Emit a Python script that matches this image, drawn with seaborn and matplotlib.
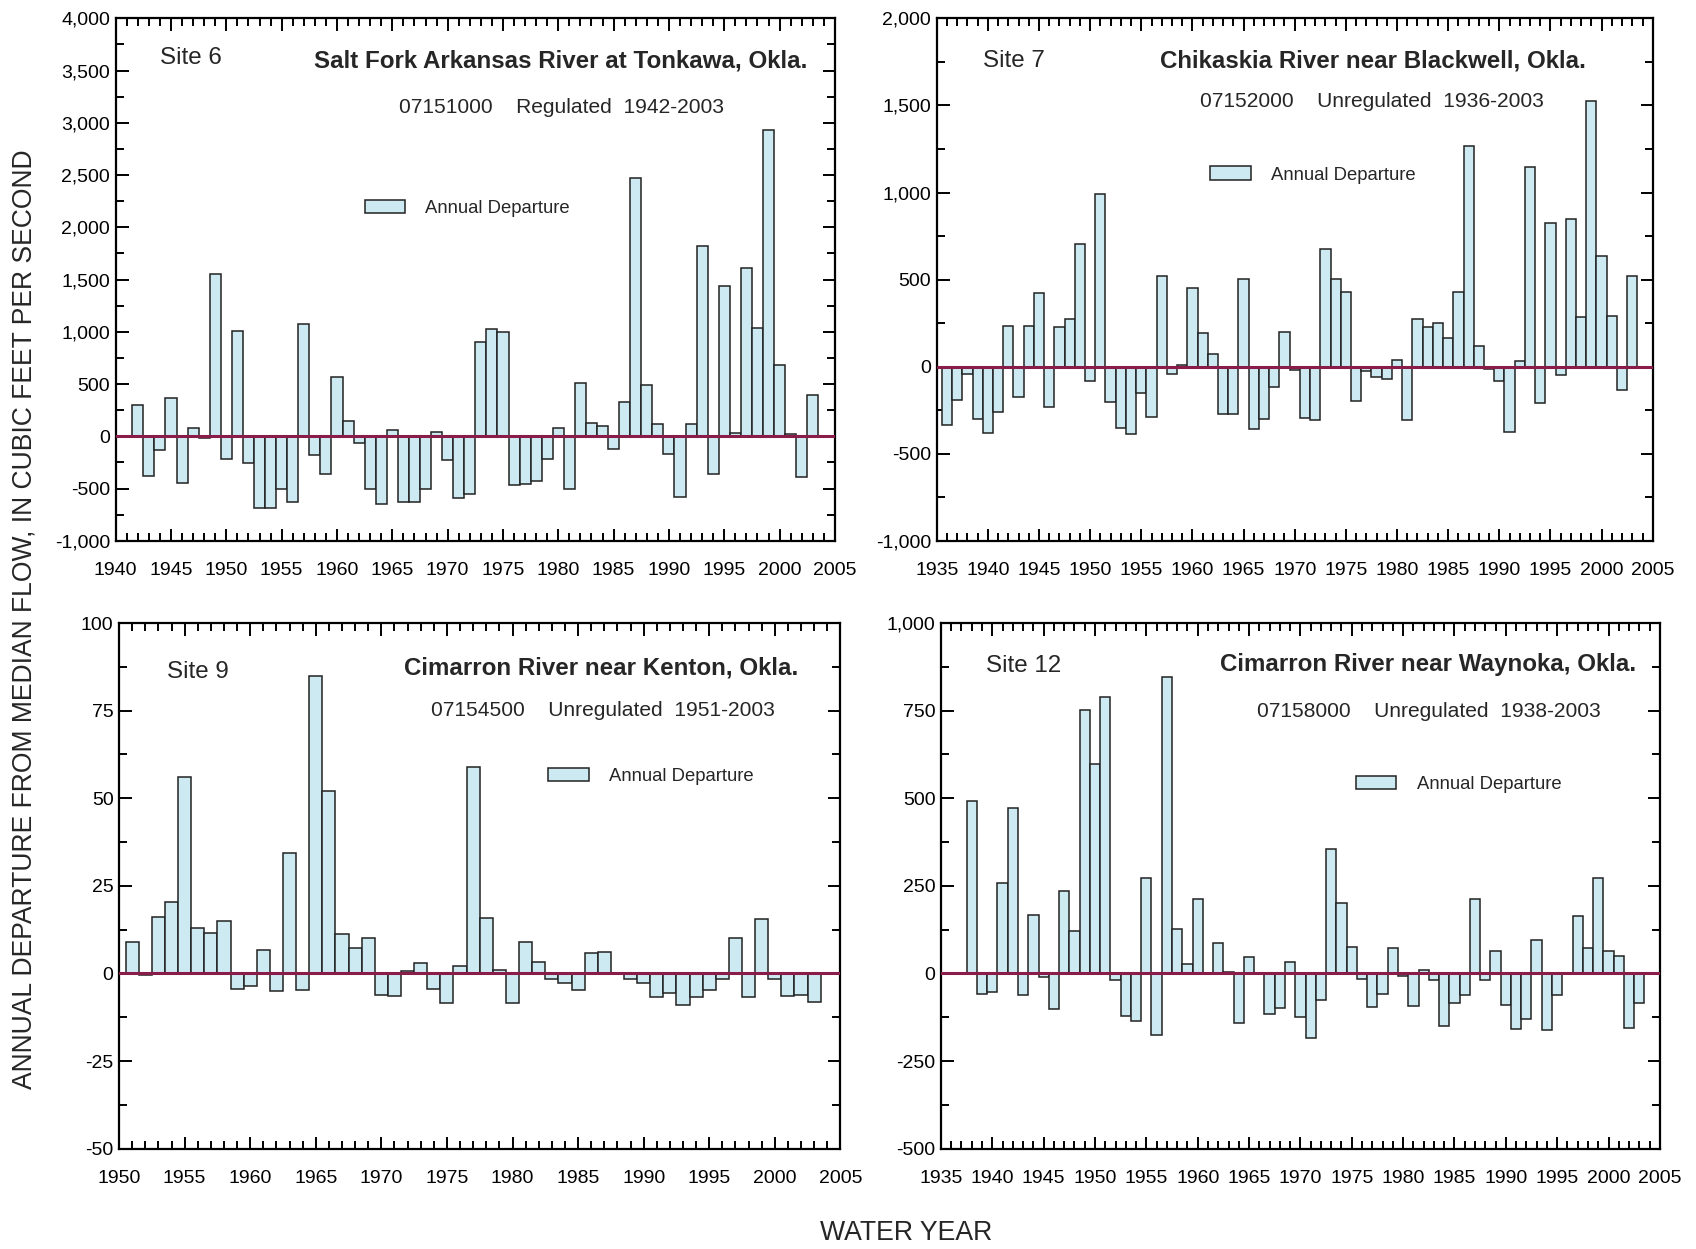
import pandas as pd
import seaborn as sns
import matplotlib.pyplot as plt
from matplotlib.ticker import MultipleLocator, FuncFormatter

# Site 6 - Salt Fork Arkansas River at Tonkawa
years_6 = list(range(1942, 2004))
depart_6 = [300, -380, -135, 365, -450, 81, -20, 1551, -220, 1010,
            -257, -682, -686, -500, -625, 1074, -179, -358, 564, 145,
            -68, -507, -649, 64, -632, -625, -507, 40, -226, -588,
            -551, 905, 1030, 1003, -466, -456, -426, -213, 81, -500,
            514, 128, 98, -122, 331, 2476, 493, 122, -166, -581,
            118, 1821, -365, 1443, 34, 1611, 1037, 2932, 682, 24,
            -385, 395]

# Site 7 - Chikaskia River near Blackwell
years_7 = list(range(1936, 2004))
depart_7 = [-334, -192, -40, -300, -381, -259, 231, -176, 235, 423,
            -229, 227, 271, 704, -85, 990, -204, -350, -387, -152,
            -289, 518, -40, 8, 449, 196, 75, -273, -269, 506,
            -360, -300, -117, 200, -20, -293, -306, 674, 502, 431,
            -198, -26, -59, -73, 40, -306, 273, 225, 251, 166,
            431, 1269, 121, -12, -81, -377, 30, 1144, -206, 826,
            -49, 846, 287, 1528, 636, 291, -132, 518]

# Site 9 - Cimarron River near Kenton
years_9 = list(range(1951, 2004))
depart_9 = [9, -0.3, 16, 20.5, 56, 13, 11.5, 15, -4.5, -3.6,
            6.6, -5.1, 34.5, -4.7, 85, 52, 11.3, 7.3, 10, -6.2,
            -6.4, 0.8, 3.1, -4.5, -8.4, 2.1, 58.8, 15.9, 0.9, -8.3,
            9, 3.3, -1.7, -2.7, -4.6, 5.7, 6.2, 0, -1.7, -2.8,
            -6.6, -5.6, -9.1, -6.6, -4.7, -1.7, 10.2, -6.7, 15.5, -1.7,
            -6.3, -6.2, -8.1]

# Site 12 - Cimarron River near Waynoka
years_12 = list(range(1938, 2004))
depart_12 = [492, -58, -53, 258, 473, -61, 167, -10, -102, 235,
             121, 753, 597, 788, -19, -121, -136, 272, -176, 847,
             126, 27, 212, 0, 86, 5, -141, 48, 0, -117,
             -98, 32, -123, -183, -75, 355, 200, 76, -15, -97,
             -58, 74, -7, -94, 11, -19, -150, -85, -61, 213,
             -19, 65, -90, -158, -129, 96, -160, -62, 0, 163,
             72, 272, 65, 51, -156, -83]

sites = ["Site 6", "Site 7", "Site 9", "Site 12"]
titles = ["Salt Fork Arkansas River at Tonkawa, Okla.",
          "Chikaskia River near Blackwell, Okla.",
          "Cimarron River near Kenton, Okla.",
          "Cimarron River near Waynoka, Okla."]
subtitles = ["07151000    Regulated  1942-2003",
             "07152000    Unregulated  1936-2003",
             "07154500    Unregulated  1951-2003",
             "07158000    Unregulated  1938-2003"]

sns.set_style("ticks")
plt.rcParams['font.family'] = ['Liberation Sans', 'DejaVu Sans']

fig = plt.figure(figsize=(16.96, 12.49), dpi=100)

panels = [
    # years, values, rect, xlim, ylim, ymajor, site pos, title pos, subtitle pos, legend pos
    (years_6, depart_6, [0.0682, 0.567, 0.4241, 0.4183], (1940, 2005), (-1000, 4000), 500,
     (0.062, 0.925), (0.961, 0.919), (0.620, 0.830), (0.346, 0.636)),
    (years_7, depart_7, [0.5523, 0.567, 0.4222, 0.4183], (1935, 2005), (-1000, 2000), 500,
     (0.065, 0.919), (0.906, 0.919), (0.608, 0.841), (0.382, 0.700)),
    (years_9, depart_9, [0.0702, 0.0803, 0.4253, 0.4209], (1950, 2005), (-50, 100), 25,
     (0.067, 0.907), (0.942, 0.914), (0.671, 0.833), (0.595, 0.708)),
    (years_12, depart_12, [0.5548, 0.0803, 0.4239, 0.4209], (1935, 2005), (-500, 1000), 250,
     (0.063, 0.918), (0.967, 0.922), (0.679, 0.831), (0.577, 0.693)),
]

fmt = FuncFormatter(lambda v, p: f"{v:,.0f}")

for i, (yrs, vals, rect, xl, yl, ymaj, spos, tpos, stpos, lpos) in enumerate(panels):
    ax = fig.add_axes(rect)
    df = pd.DataFrame({"year": yrs, "departure": vals})
    sns.barplot(data=df, x="year", y="departure", native_scale=True, orient="x",
                width=1, color="#cdeaf2", saturation=1, edgecolor="#222222",
                linewidth=1.1, errorbar=None, label="Annual Departure", ax=ax)
    ax.axhline(0, color="#8a1c4a", lw=2.2, zorder=5)
    ax.set_xlim(*xl)
    ax.set_ylim(*yl)
    ax.xaxis.set_major_locator(MultipleLocator(5))
    ax.xaxis.set_minor_locator(MultipleLocator(1))
    ax.yaxis.set_major_locator(MultipleLocator(ymaj))
    ax.yaxis.set_minor_locator(MultipleLocator(ymaj / 2))
    ax.yaxis.set_major_formatter(fmt)
    ax.xaxis.set_major_formatter(FuncFormatter(lambda v, p: f"{v:.0f}"))
    ax.set_xlabel("")
    ax.set_ylabel("")
    for s in ax.spines.values():
        s.set_visible(True)
        s.set_linewidth(1.6)
        s.set_color("black")
    ax.tick_params(which="both", direction="in", top=True, right=True, colors="black",
                   labelsize=14, width=1.4)
    ax.tick_params(which="major", length=9)
    ax.tick_params(which="minor", length=6)
    ax.tick_params(axis="x", which="major", pad=15)
    ax.tick_params(axis="y", which="major", pad=4)

    ax.text(spos[0], spos[1], sites[i], transform=ax.transAxes, fontsize=17.4,
            ha="left", va="center")
    ax.text(tpos[0], tpos[1], titles[i], transform=ax.transAxes, fontsize=17.4,
            fontweight="bold", ha="right", va="center")
    ax.text(stpos[0], stpos[1], subtitles[i], transform=ax.transAxes, fontsize=15.1,
            ha="center", va="center")
    ax.legend(loc="center left", bbox_to_anchor=lpos, frameon=False, fontsize=13.3,
              handlelength=2.2, handleheight=0.75, handletextpad=1.1,
              borderaxespad=0, borderpad=0)

fig.text(0.0142, 0.504, "ANNUAL DEPARTURE FROM MEDIAN FLOW, IN CUBIC FEET PER SECOND",
         rotation=90, ha="center", va="center", fontsize=19.1)
fig.text(0.534, 0.0128, "WATER YEAR", ha="center", va="center", fontsize=19.2)

fig.savefig("out.png", dpi=100)
